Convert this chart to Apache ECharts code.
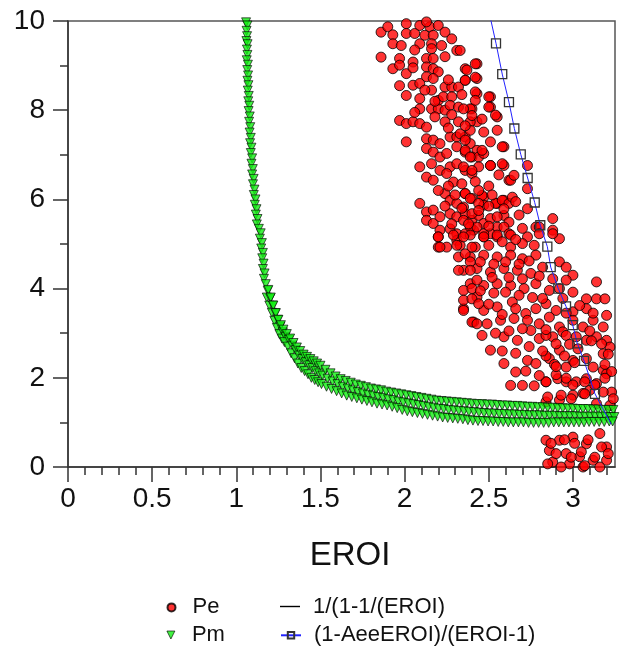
<!DOCTYPE html>
<html><head><meta charset="utf-8">
<script src="https://cdn.jsdelivr.net/npm/echarts@6/dist/echarts.min.js"></script>
<style>html,body{margin:0;padding:0;background:#fff}#c{width:624px;height:647px}</style>
</head><body><div id="c"></div>
<script>
// ---- tick labels ----
const xMajorTicks = [0, 0.5, 1, 1.5, 2, 2.5, 3];
const xMinorTicks = [0.1,0.2,0.3,0.4,0.6,0.7,0.8,0.9,1.1,1.2,1.3,1.4,1.6,1.7,1.8,1.9,2.1,2.2,2.3,2.4,2.6,2.7,2.8,2.9,3.1,3.2];
const seriesNames = ['Pe', 'Pm', '1/(1-1/(EROI)', '(1-AeeEROI)/(EROI-1)'];

// ---- Pe (red circles), [EROI, value] ----
const peData = [
[1.86,9.75],[1.90,9.87],[1.93,9.69],[1.93,9.49],[2.01,9.94],[2.01,9.72],[2.06,9.72],[2.09,9.90],[2.09,9.49],[2.12,9.68],[2.15,9.87],[2.17,9.68],[2.20,9.90],[2.24,9.75],[2.13,9.98],[2.16,9.49],[2.16,9.38],[1.86,9.19],[1.97,9.16],[1.93,8.93],[1.97,9.01],[2.05,9.08],[2.01,8.82],[2.05,8.56],[2.09,8.60],[2.13,9.16],[2.17,9.16],[2.13,8.97],[2.17,8.93],[2.20,8.86],[2.13,8.75],[2.17,8.71],[2.31,9.34],[2.36,8.93],[2.43,9.04],[2.43,8.71],[2.01,8.33],[2.09,8.26],[2.16,8.45],[2.24,8.52],[2.28,8.52],[2.32,8.52],[2.20,8.22],[2.23,8.30],[2.28,8.30],[2.36,8.67],[2.43,8.37],[2.51,8.30],[2.51,8.07],[2.55,7.85],[2.09,8.03],[2.16,8.03],[2.20,8.03],[2.24,8.00],[2.27,8.11],[2.32,8.07],[2.40,8.03],[2.24,7.74],[2.32,7.74],[2.43,7.74],[1.97,7.77],[2.01,7.70],[2.05,7.74],[2.09,7.70],[2.13,7.62],[2.01,7.29],[2.13,7.36],[2.17,7.33],[2.21,7.25],[2.27,7.40],[2.31,7.40],[2.36,7.40],[2.39,7.25],[2.43,7.10],[2.47,7.51],[2.51,7.29],[2.55,7.55],[2.59,7.18],[2.13,7.14],[2.17,7.06],[2.21,6.95],[2.25,7.03],[2.31,7.18],[2.36,7.06],[2.40,6.95],[2.44,6.95],[2.47,7.03],[2.09,6.73],[2.16,6.80],[2.21,6.65],[2.27,6.73],[2.31,6.80],[2.36,6.65],[2.40,6.58],[2.44,6.73],[2.51,6.76],[2.59,6.76],[2.13,6.50],[2.17,6.43],[2.25,6.58],[2.29,6.39],[2.62,6.43],[2.09,5.91],[2.13,5.72],[2.17,5.76],[2.24,6.13],[2.27,5.98],[2.31,5.91],[2.36,6.13],[2.40,6.02],[2.47,6.05],[2.47,5.87],[2.55,5.91],[2.59,5.98],[2.13,5.53],[2.17,5.46],[2.21,5.61],[2.27,5.68],[2.31,5.61],[2.36,5.68],[2.40,5.53],[2.44,5.64],[2.47,5.46],[2.51,5.57],[2.55,5.38],[2.59,5.64],[2.21,5.31],[2.27,5.34],[2.31,5.23],[2.36,5.23],[2.41,5.31],[2.47,5.16],[2.51,5.23],[2.55,5.16],[2.20,5.16],[2.20,4.93],[2.25,4.93],[2.31,5.08],
[2.33,9.34],[2.37,8.90],[2.36,8.67],[2.42,9.04],[2.42,8.74],[2.42,8.41],[2.42,8.22],[2.50,8.30],[2.50,8.07],[2.54,7.89],[2.39,8.03],[2.39,7.74],[2.35,8.03],[2.33,7.47],[2.36,7.33],[2.39,7.55],[2.58,7.18],[2.46,7.10],[2.36,7.10],[2.39,6.95],[2.51,6.76],[2.58,6.80],[2.35,6.73],[2.40,6.65],[2.63,6.43],[2.65,6.54],[2.73,6.76],[2.73,6.24],[2.36,6.13],[2.39,6.02],[2.46,6.09],[2.35,5.83],[2.40,5.68],[2.44,5.91],[2.54,5.91],[2.58,5.98],[2.62,5.91],[2.59,5.79],[2.55,5.61],[2.62,5.49],[2.35,5.53],[2.39,5.38],[2.43,5.38],[2.73,5.79],[2.78,5.38],[2.80,5.38],[2.88,5.57],[2.88,5.31],[2.92,5.12],[2.59,5.38],[2.62,5.23],[2.47,5.23],
[2.39,5.20],[2.47,5.16],[2.55,5.20],[2.63,5.20],[2.73,5.16],[2.80,5.23],[2.88,5.23],[2.33,4.97],[2.42,4.93],[2.50,4.97],[2.63,4.93],[2.70,5.01],[2.77,4.97],[2.39,4.71],[2.47,4.75],[2.55,4.71],[2.63,4.75],[2.70,4.67],[2.78,4.75],[2.92,4.60],[2.96,4.48],[3.00,4.30],[2.35,4.41],[2.43,4.45],[2.51,4.37],[2.59,4.45],[2.67,4.41],[2.75,4.34],[2.82,4.48],[2.88,4.22],[2.96,4.19],[3.14,4.15],[2.39,4.11],[2.47,4.07],[2.55,4.11],[2.63,4.07],[2.71,4.00],[2.78,4.11],[2.86,3.96],[2.92,4.00],[3.00,3.92],[3.08,3.77],[3.14,3.77],[3.19,3.77],[2.35,3.55],[2.43,3.81],[2.47,3.51],[2.55,3.59],[2.64,3.70],[2.72,3.44],[2.78,3.55],[2.84,3.66],[2.90,3.51],[3.00,3.48],[3.08,3.55],[2.41,3.25],[2.49,3.21],[2.57,3.29],[2.65,3.33],[2.73,3.29],[2.80,3.21],[2.86,3.36],[2.92,3.14],[3.00,3.29],[3.06,3.14],[3.12,3.29],[3.18,3.14],[2.51,2.62],[2.59,2.92],[2.67,2.84],[2.75,3.06],[2.80,2.88],[2.88,2.92],[2.94,3.03],[3.02,2.92],[3.08,2.84],[3.14,2.92],[3.20,2.84],[3.22,2.69],[3.18,2.54],[2.59,2.32],[2.73,2.39],[2.78,2.32],[2.86,2.43],[2.92,2.62],[2.96,2.24],[3.00,2.39],[3.03,2.65],[3.08,2.43],[3.12,2.24],[3.18,2.17],[2.66,2.13],[2.70,1.83],[2.77,1.82],[2.63,1.83],[2.84,1.91],[2.91,1.98],[2.96,1.91],[3.02,1.91],[3.08,1.98],[3.14,1.87],[3.20,2.09],[3.10,1.72],[3.00,1.61],[2.92,1.50],[2.84,1.46],[3.22,1.38],[3.14,1.42],[3.06,1.65],[2.84,0.60],[2.92,0.60],[3.00,0.67],[3.08,0.52],[3.16,0.75],[3.20,0.45],[2.86,0.37],[2.96,0.30],[3.04,0.23],[3.12,0.15],[3.20,0.15],[2.88,0.11],[2.98,0.07],[3.06,0.00],
[2.20,5.16],[2.21,4.93],[2.29,5.20],[2.31,4.97],[2.35,5.16],[2.32,4.71],[2.36,4.78],[2.40,4.93],[2.39,4.60],[2.32,4.41],[2.39,4.41],[2.43,4.19],[2.35,3.96],[2.40,4.00],[2.35,3.74],[2.40,3.77],[2.44,3.66],[2.35,3.51],[2.40,3.25],[2.43,3.21],
[2.84,2.95],[2.90,2.76],[2.96,2.95],[2.84,2.49],[2.89,2.30],[2.95,2.49],[3.01,2.34],[3.11,2.83],[3.17,2.76],[3.21,2.53],[3.19,2.30],[3.23,2.14],[2.84,1.91],[2.90,2.07],[2.96,1.99],[3.00,1.84],[3.07,1.91],[3.13,1.84],[3.19,1.99],[3.23,1.68],[2.85,1.57],[2.93,1.61],[2.99,1.53],[3.07,1.64],[3.18,1.68],[3.24,1.53],[2.87,0.53],[2.95,0.61],[3.01,0.53],[3.09,0.61],[3.17,0.45],[2.90,0.30],[2.99,0.22],[3.05,0.34],[3.13,0.22],[3.21,0.30],[2.85,0.07],[2.93,0.00],[3.07,0.03],[3.16,0.00],
[2.45,4.60],[2.53,4.55],[2.60,4.60],[2.68,4.55],[2.74,4.62],[2.52,4.25],[2.62,4.25],[2.70,4.22],[2.80,4.28],[2.45,3.95],[2.53,3.90],[2.60,3.92],[2.68,3.85],[2.76,3.80],[2.82,3.78],[2.94,3.78],[2.50,3.65],[2.58,3.42],[2.66,3.55],[2.70,3.10],[2.62,3.05],[2.54,3.00],[2.46,2.95],[2.84,3.08],[2.96,3.45],[3.04,3.62],[3.12,3.45],[3.20,3.40],[3.10,3.05],[2.98,2.75],[2.90,2.25],[2.82,2.60],[2.74,2.70],[2.66,2.55],[2.72,2.15],[2.80,2.05],[2.58,2.60],
[2.26,6.30],[2.34,6.35],[2.42,6.40],[2.50,6.30],[2.56,6.55],[2.20,6.20],[2.30,6.10],[2.44,6.20],[2.52,6.10],[2.64,6.05],[2.68,5.65],[2.66,5.95],[2.24,5.85],[2.34,5.80],[2.44,5.75],[2.50,5.85],[2.28,5.45],[2.38,5.45],[2.50,5.40],[2.58,5.05],[2.66,5.10],[2.70,5.35],[2.26,7.60],[2.36,7.65],[2.46,7.80],[2.18,7.85],[2.06,7.95],[2.28,7.90],[2.40,7.88],[2.18,8.20],[2.26,8.68],[2.05,8.95],[2.24,9.20],[2.28,9.60],[2.06,9.35],[1.98,9.45],[2.22,9.45],[2.12,8.45],[2.34,8.35],[1.97,8.55]
];

// ---- Pm (green down-triangles), [EROI, value] ----
const pmData = [
[1.058,9.97],[1.066,9.90],[1.061,9.78],[1.064,9.66],[1.060,9.55],[1.067,9.48],[1.063,9.36],[1.066,9.24],[1.062,9.12],[1.069,9.02],[1.065,8.90],[1.070,8.78],[1.066,8.66],[1.072,8.56],[1.068,8.44],[1.074,8.32],[1.071,8.20],[1.077,8.10],[1.073,7.98],[1.080,7.86],[1.076,7.74],[1.083,7.62],[1.079,7.50],[1.086,7.38],[1.082,7.26],[1.090,7.16],[1.086,7.04],[1.094,6.92],[1.090,6.80],[1.098,6.68],[1.094,6.56],[1.103,6.46],[1.099,6.34],[1.108,6.22],[1.104,6.10],[1.114,6.00],[1.110,5.88],[1.120,5.78],[1.116,5.66],[1.126,5.56],[1.122,5.44],[1.134,5.34],[1.145,5.24],[1.140,5.12],[1.152,5.02],[1.148,4.90],[1.158,4.80],[1.154,4.68],[1.162,4.56],[1.158,4.44],[1.168,4.34],[1.164,4.22],
[1.175,4.10],[1.187,3.95],[1.181,3.80],[1.190,3.97],[1.202,3.78],[1.196,3.62],[1.205,3.80],[1.217,3.62],[1.211,3.46],[1.220,3.62],[1.232,3.45],[1.226,3.28],[1.235,3.45],[1.247,3.30],[1.241,3.12],[1.250,3.30],[1.262,3.15],[1.256,2.98],[1.265,3.18],[1.277,3.02],[1.271,2.88],[1.280,3.08],[1.292,2.92],[1.286,2.80],[1.300,2.98],[1.312,2.85],[1.306,2.70],[1.320,2.88],[1.332,2.72],[1.326,2.55],[1.340,2.78],[1.352,2.62],[1.346,2.44],[1.360,2.68],[1.372,2.50],[1.366,2.32],[1.380,2.60],[1.392,2.42],[1.386,2.22],[1.400,2.52],[1.412,2.35],[1.406,2.15],[1.420,2.47],[1.432,2.28],[1.426,2.08],[1.440,2.42],[1.452,2.22],[1.446,2.00],[1.460,2.37],[1.472,2.15],[1.466,1.95],[1.480,2.32],[1.492,2.10],[1.486,1.90],[1.500,2.27],[1.512,2.05],[1.506,1.86],
[1.530,2.18],[1.542,1.98],[1.536,1.80],[1.560,2.10],[1.572,1.92],[1.566,1.75],[1.590,2.03],[1.602,1.86],[1.596,1.70],[1.620,1.97],[1.632,1.80],[1.626,1.65],[1.650,1.93],[1.662,1.76],[1.656,1.60],[1.680,1.89],[1.692,1.72],[1.686,1.57],[1.710,1.85],[1.722,1.68],[1.716,1.54],[1.740,1.82],[1.752,1.65],[1.746,1.51],[1.770,1.79],[1.782,1.62],[1.776,1.48],[1.800,1.76],[1.812,1.60],[1.806,1.45],[1.830,1.74],[1.842,1.57],[1.836,1.42],[1.860,1.72],[1.872,1.55],[1.866,1.40],[1.890,1.69],[1.902,1.52],[1.896,1.38],[1.920,1.67],[1.932,1.50],[1.926,1.35],[1.950,1.65],[1.962,1.47],[1.956,1.32],[1.980,1.63],[1.992,1.45],[1.986,1.28],
[2.010,1.61],[2.022,1.43],[2.016,1.25],[2.040,1.59],[2.052,1.41],[2.046,1.23],[2.070,1.57],[2.082,1.39],[2.076,1.21],[2.100,1.55],[2.112,1.37],[2.106,1.19],[2.130,1.53],[2.142,1.35],[2.136,1.17],[2.160,1.51],[2.172,1.33],[2.166,1.15],[2.190,1.49],[2.202,1.31],[2.196,1.13],[2.220,1.48],[2.232,1.30],[2.226,1.11],[2.250,1.47],[2.262,1.28],[2.256,1.10],[2.280,1.46],[2.292,1.27],[2.286,1.09],[2.310,1.45],[2.322,1.26],[2.316,1.08],[2.340,1.44],[2.352,1.25],[2.346,1.07],[2.370,1.43],[2.382,1.24],[2.376,1.05],[2.400,1.42],[2.412,1.23],[2.406,1.04],[2.430,1.41],[2.442,1.22],[2.436,1.03],[2.460,1.41],[2.472,1.21],[2.466,1.03],[2.490,1.40],[2.502,1.20],[2.496,1.02],
[2.520,1.40],[2.532,1.20],[2.526,1.02],[2.550,1.39],[2.562,1.19],[2.556,1.01],[2.580,1.38],[2.592,1.19],[2.586,1.01],[2.610,1.38],[2.622,1.18],[2.616,1.00],[2.640,1.37],[2.652,1.18],[2.646,1.00],[2.670,1.37],[2.682,1.17],[2.676,1.00],[2.700,1.36],[2.712,1.17],[2.706,1.00],[2.730,1.35],[2.742,1.16],[2.736,0.99],[2.760,1.35],[2.772,1.16],[2.766,0.99],[2.790,1.34],[2.802,1.16],[2.796,0.99],[2.820,1.34],[2.832,1.15],[2.826,0.99],[2.850,1.33],[2.862,1.15],[2.856,0.99],[2.880,1.33],[2.892,1.15],[2.886,1.00],[2.910,1.32],[2.922,1.14],[2.916,1.00],[2.940,1.32],[2.952,1.14],[2.946,1.00],[2.970,1.31],[2.982,1.14],[2.976,1.00],
[3.000,1.31],[3.012,1.14],[3.006,1.00],[3.030,1.30],[3.042,1.13],[3.036,1.00],[3.060,1.30],[3.072,1.13],[3.066,1.00],[3.090,1.30],[3.102,1.13],[3.096,1.01],[3.120,1.29],[3.132,1.13],[3.126,1.01],[3.150,1.29],[3.162,1.13],[3.156,1.01],[3.180,1.28],[3.192,1.13],[3.186,1.01],[3.210,1.28],[3.222,1.12],[3.216,1.02],[3.240,1.28],[3.246,1.12],[3.236,1.02]
];

// ---- line 1: 1/(1-1/(EROI) (no visible points in picture) ----
const line1Data = [];

// ---- line 2: (1-AeeEROI)/(EROI-1) ----
const line2X = [2.49, 2.543, 2.580, 2.620, 2.652, 2.690, 2.731, 2.773, 2.806, 2.848, 2.868, 2.913, 2.959, 2.999, 3.026, 3.066, 3.131, 3.227];
const line2Y = [10.4, 9.50, 8.81, 8.18, 7.59, 7.01, 6.48, 5.93, 5.42, 4.94, 4.48, 4.00, 3.60, 3.18, 2.77, 2.38, 1.64, 0.96];

const FONT = 'Liberation Sans, Arial, sans-serif';
const line2Data = line2X.map((x, i) => {
  const item = { value: [x, line2Y[i]] };
  if (i === 0 || i === line2X.length - 1) item.symbol = 'none';
  return item;
});

const chart = echarts.init(document.getElementById('c'), null, { renderer: 'canvas' });
const tickLine = { color: '#333', width: 1.5 };
function legendAt(item, left, top, iw, ih, pad) {
  return {
    data: [item], left: left, top: top, orient: 'vertical', padding: 0,
    itemWidth: iw, itemHeight: ih, selectedMode: false,
    textStyle: { fontFamily: FONT, fontSize: 22, color: '#111', padding: [0, 0, 0, pad] }
  };
}
chart.setOption({
  animation: false,
  backgroundColor: '#fff',
  grid: { left: 68, right: 9, top: 21, bottom: 180, show: true, borderColor: '#555', borderWidth: 1.5, backgroundColor: 'transparent' },
  title: {
    text: 'EROI', left: 345, top: 534, textAlign: 'center',
    textStyle: { fontFamily: FONT, fontSize: 33, fontWeight: 'normal', color: '#111' }
  },
  legend: [
    legendAt({ name: seriesNames[0], icon: 'circle' }, 166.5, 596.4, 8, 8, 12),
    legendAt({ name: seriesNames[1], icon: 'path://M0,0L10,0L5,10Z', itemStyle: { borderColor: '#000', borderWidth: 0.8 } }, 166.5, 624, 8, 8, 12),
    legendAt({ name: seriesNames[2], icon: 'rect', itemStyle: { color: '#000', borderWidth: 0 } }, 280, 595.5, 20, 1.4, 8),
    legendAt({ name: seriesNames[3] }, 280, 624.3, 20, 8, 8)
  ],
  xAxis: [{
    type: 'value', min: 0, max: 3.25, position: 'bottom',
    axisLine: { show: true, onZero: false, lineStyle: tickLine },
    axisTick: { show: true, length: 15, customValues: xMajorTicks, lineStyle: tickLine },
    axisLabel: { customValues: xMajorTicks, margin: 18, fontFamily: FONT, fontSize: 28, color: '#111', formatter: v => String(v) },
    splitLine: { show: false }
  }, {
    type: 'value', min: 0, max: 3.25, position: 'bottom', gridIndex: 0,
    axisLine: { show: false },
    axisTick: { show: true, length: 8, customValues: xMinorTicks, lineStyle: tickLine },
    axisLabel: { show: false },
    splitLine: { show: false }
  }],
  yAxis: {
    type: 'value', min: 0, max: 10, interval: 2,
    axisLine: { show: true, onZero: false, lineStyle: tickLine },
    axisTick: { show: true, length: 15, lineStyle: tickLine },
    minorTick: { show: true, splitNumber: 2, length: 8, lineStyle: tickLine },
    axisLabel: { margin: 23, fontFamily: FONT, fontSize: 28, color: '#111' },
    splitLine: { show: false }, minorSplitLine: { show: false }
  },
  series: [
    {
      name: seriesNames[0], type: 'scatter', data: peData, symbol: 'circle', symbolSize: 10,
      itemStyle: { color: '#ff0000', borderColor: '#000', borderWidth: 1 }, z: 2
    },
    {
      name: seriesNames[1], type: 'scatter', data: pmData, symbol: 'triangle', symbolRotate: 180, symbolSize: 9,
      itemStyle: { color: '#11ee11', borderColor: '#000', borderWidth: 0.8 }, z: 3
    },
    {
      name: seriesNames[2], type: 'line', data: line1Data, symbol: 'none',
      lineStyle: { color: '#000', width: 1.2 }, itemStyle: { color: '#000' }, z: 4
    },
    {
      name: seriesNames[3], type: 'line', data: line2Data, symbol: 'rect', symbolSize: 9, showSymbol: true,
      lineStyle: { color: '#2222ff', width: 1 },
      itemStyle: { color: 'rgba(255,255,255,0)', borderColor: '#333', borderWidth: 1.3 }, z: 5
    }
  ]
});
</script></body></html>
